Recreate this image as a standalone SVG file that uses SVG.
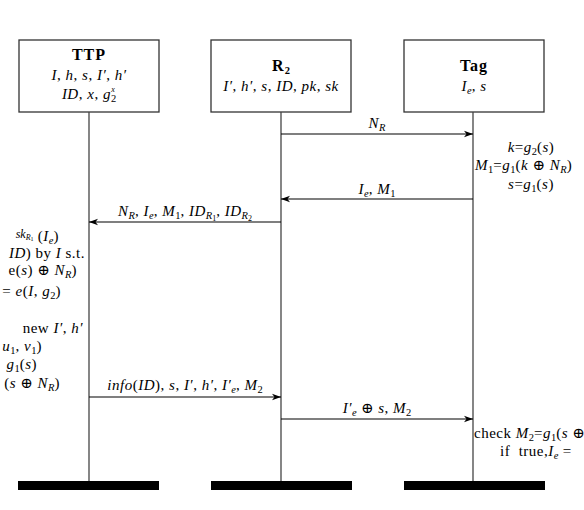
<svg xmlns="http://www.w3.org/2000/svg" width="584" height="510" viewBox="0 0 584 510">
<defs>
<marker id="ah" markerWidth="10" markerHeight="8" refX="9" refY="4" orient="auto" markerUnits="userSpaceOnUse">
<path d="M0,0.8 L9,4 L0,7.2 L2.5,4 z" fill="#000"/>
</marker>
<style>
.box{fill:#fff;stroke:#333;stroke-width:1.3}
.life{stroke:#444;stroke-width:1.3}
.msg{stroke:#000;stroke-width:1.1;fill:none;marker-end:url(#ah)}
.bar{fill:#000}
text{font-family:"Liberation Serif","DejaVu Serif",serif;font-size:15px;letter-spacing:0.5px;fill:#000}
.m{font-style:italic}
.c{text-anchor:middle}
.e{text-anchor:end}
.s{font-size:10.5px;letter-spacing:0}
.t{font-size:8px;letter-spacing:0}
.b{font-weight:bold;font-size:16px;letter-spacing:1px}
</style>
</defs>
<rect width="584" height="510" fill="#fff"/>

<g id="TTP">
<rect class="box" x="19" y="40" width="140" height="72"/>
<text class="c b" x="89" y="60">TTP</text>
<text class="c" x="89" y="80"><tspan class="m">I</tspan>, <tspan class="m">h</tspan>, <tspan class="m">s</tspan>, <tspan class="m">I′</tspan>, <tspan class="m">h′</tspan></text>
<text class="c" x="89" y="99"><tspan class="m">ID</tspan>, <tspan class="m">x</tspan>, <tspan class="m">g</tspan><tspan class="s" dy="3">2</tspan><tspan class="t m" dy="-10" dx="-5">x</tspan></text>
<line class="life" x1="89" y1="112" x2="89" y2="481"/>
<rect class="bar" x="18" y="481" width="141" height="9"/>
</g>

<g id="R2">
<rect class="box" x="211" y="40" width="140" height="72"/>
<text class="c b" x="281" y="71">R<tspan class="s" dy="3">2</tspan></text>
<text class="c" x="281" y="91"><tspan class="m">I′</tspan>, <tspan class="m">h′</tspan>, <tspan class="m">s</tspan>, <tspan class="m">ID</tspan>, <tspan class="m">pk</tspan>, <tspan class="m">sk</tspan></text>
<line class="life" x1="281" y1="112" x2="281" y2="481"/>
<rect class="bar" x="211" y="481" width="141" height="9"/>
</g>

<g id="Tag">
<rect class="box" x="404" y="40" width="140" height="72"/>
<text class="c b" x="474" y="71">Tag</text>
<text class="c" x="474" y="91"><tspan class="m">I</tspan><tspan class="s m" dy="3">e</tspan><tspan dy="-3">, </tspan><tspan class="m">s</tspan></text>
<line class="life" x1="473" y1="112" x2="473" y2="481"/>
<rect class="bar" x="404" y="481" width="141" height="9"/>
</g>

<g id="tag-compute">
<text class="c" x="531" y="152"><tspan class="m">k</tspan>=<tspan class="m">g</tspan><tspan class="s" dy="3">2</tspan><tspan dy="-3">(</tspan><tspan class="m">s</tspan>)</text>
<text x="475" y="170"><tspan class="m">M</tspan><tspan class="s" dy="3">1</tspan><tspan dy="-3">=</tspan><tspan class="m">g</tspan><tspan class="s" dy="3">1</tspan><tspan dy="-3">(</tspan><tspan class="m">k</tspan> ⊕ <tspan class="m">N</tspan><tspan class="s m" dy="3">R</tspan><tspan dy="-3">)</tspan></text>
<text class="c" x="531" y="189"><tspan class="m">s</tspan>=<tspan class="m">g</tspan><tspan class="s" dy="3">1</tspan><tspan dy="-3">(</tspan><tspan class="m">s</tspan>)</text>
</g>

<g id="ttp-compute">
<text class="e" x="59" y="241"><tspan class="m" style="font-size:12px;letter-spacing:0" dy="-3">sk</tspan><tspan class="t m" dy="2">R</tspan><tspan style="font-size:6px;letter-spacing:0" dy="1">1</tspan><tspan dy="0"> (</tspan><tspan class="m">I</tspan><tspan class="s m" dy="3">e</tspan><tspan dy="-3">)</tspan></text>
<text class="e" x="85" y="258"><tspan class="m">ID</tspan>) by <tspan class="m">I</tspan> s.t.</text>
<text class="e" x="77" y="275">e(<tspan class="m">s</tspan>) ⊕ <tspan class="m">N</tspan><tspan class="s m" dy="3">R</tspan><tspan dy="-3">)</tspan></text>
<text class="e" x="61" y="296">= <tspan class="m">e</tspan>(<tspan class="m">I</tspan>, <tspan class="m">g</tspan><tspan class="s" dy="3">2</tspan><tspan dy="-3">)</tspan></text>
<text class="e" x="83" y="333">new <tspan class="m">I′</tspan>, <tspan class="m">h′</tspan></text>
<text class="e" x="42" y="351"><tspan class="m">u</tspan><tspan class="s" dy="3">1</tspan><tspan dy="-3">, </tspan><tspan class="m">v</tspan><tspan class="s" dy="3">1</tspan><tspan dy="-3">)</tspan></text>
<text class="e" x="37" y="369"><tspan class="m">g</tspan><tspan class="s" dy="3">1</tspan><tspan dy="-3">(</tspan><tspan class="m">s</tspan>)</text>
<text class="e" x="60" y="388">(<tspan class="m">s</tspan> ⊕ <tspan class="m">N</tspan><tspan class="s m" dy="3">R</tspan><tspan dy="-3">)</tspan></text>
</g>

<g id="tag-check">
<text x="474" y="438">check <tspan class="m">M</tspan><tspan class="s" dy="3">2</tspan><tspan dy="-3">=</tspan><tspan class="m">g</tspan><tspan class="s" dy="3">1</tspan><tspan dy="-3">(</tspan><tspan class="m">s</tspan> ⊕</text>
<text x="500" y="456">if&#160; true,<tspan class="m">I</tspan><tspan class="s m" dy="3">e</tspan><tspan dy="-3"> =</tspan></text>
</g>

<g id="connectors">
<line class="msg" x1="281" y1="134" x2="473" y2="134"/>
<line class="msg" x1="473" y1="199" x2="281" y2="199"/>
<line class="msg" x1="281" y1="222" x2="89" y2="222"/>
<line class="msg" x1="89" y1="397" x2="281" y2="397"/>
<line class="msg" x1="281" y1="419" x2="473" y2="419"/>
<text class="c" x="377" y="128"><tspan class="m">N</tspan><tspan class="s m" dy="3">R</tspan></text>
<text class="c" x="377" y="194"><tspan class="m">I</tspan><tspan class="s m" dy="3">e</tspan><tspan dy="-3">, </tspan><tspan class="m">M</tspan><tspan class="s" dy="3">1</tspan></text>
<text class="c" x="185" y="216"><tspan class="m">N</tspan><tspan class="s m" dy="3">R</tspan><tspan dy="-3">, </tspan><tspan class="m">I</tspan><tspan class="s m" dy="3">e</tspan><tspan dy="-3">, </tspan><tspan class="m">M</tspan><tspan class="s" dy="3">1</tspan><tspan dy="-3">, </tspan><tspan class="m">ID</tspan><tspan class="s m" dy="3">R</tspan><tspan class="t" dy="2">1</tspan><tspan dy="-5">, </tspan><tspan class="m">ID</tspan><tspan class="s m" dy="3">R</tspan><tspan class="t" dy="2">2</tspan></text>
<text class="c" x="185" y="390"><tspan class="m">info</tspan>(<tspan class="m">ID</tspan>), <tspan class="m">s</tspan>, <tspan class="m">I′</tspan>, <tspan class="m">h′</tspan>, <tspan class="m">I′</tspan><tspan class="s m" dy="3">e</tspan><tspan dy="-3">, </tspan><tspan class="m">M</tspan><tspan class="s" dy="3">2</tspan></text>
<text class="c" x="377" y="413"><tspan class="m">I′</tspan><tspan class="s m" dy="3">e</tspan><tspan dy="-3"> ⊕ </tspan><tspan class="m">s</tspan>, <tspan class="m">M</tspan><tspan class="s" dy="3">2</tspan></text>
</g>
</svg>
